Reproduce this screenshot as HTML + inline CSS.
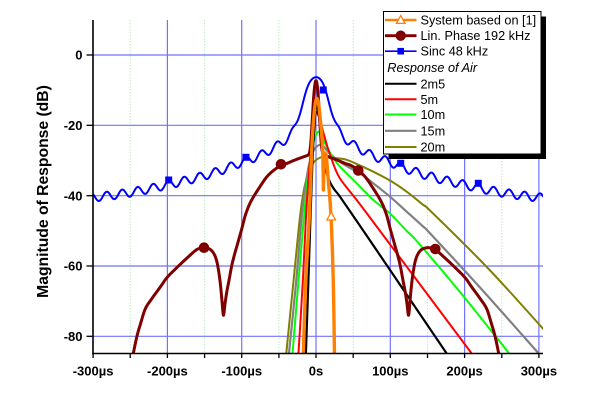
<!DOCTYPE html>
<html><head><meta charset="utf-8">
<style>
html,body{margin:0;padding:0;background:#fff;}
svg{display:block;}
text{font-family:"Liberation Sans",Arial,sans-serif;fill:#000;}
.tk{font-size:13px;font-weight:bold;}
.lg{font-size:12.7px;}
</style></head>
<body>
<svg id="s" width="600" height="401" viewBox="0 0 600 401" xmlns="http://www.w3.org/2000/svg">
<defs><clipPath id="c"><rect x="93" y="18" width="450" height="335.5"/></clipPath></defs>
<rect width="600" height="401" fill="#fff"/>
<!-- minor grid -->
<g stroke="#bdecbd" stroke-width="1" stroke-dasharray="1.5,1.5">
<line x1="130.2" y1="20" x2="130.2" y2="353.5"/>
<line x1="204.6" y1="20" x2="204.6" y2="353.5"/>
<line x1="278.9" y1="20" x2="278.9" y2="353.5"/>
<line x1="353.2" y1="20" x2="353.2" y2="353.5"/>
<line x1="427.5" y1="20" x2="427.5" y2="353.5"/>
<line x1="501.8" y1="20" x2="501.8" y2="353.5"/>
</g>
<!-- major grid -->
<g stroke="#7272ff" stroke-width="1.2">
<line x1="167.4" y1="20" x2="167.4" y2="353.5"/>
<line x1="241.7" y1="20" x2="241.7" y2="353.5"/>
<line x1="316" y1="20" x2="316" y2="353.5"/>
<line x1="390.3" y1="20" x2="390.3" y2="353.5"/>
<line x1="464.6" y1="20" x2="464.6" y2="353.5"/>
<line x1="538.9" y1="20" x2="538.9" y2="353.5"/>
<line x1="93" y1="55" x2="543" y2="55"/>
<line x1="93" y1="125.3" x2="543" y2="125.3"/>
<line x1="93" y1="195.7" x2="543" y2="195.7"/>
<line x1="93" y1="266" x2="543" y2="266"/>
<line x1="93" y1="336.3" x2="543" y2="336.3"/>
</g>
<g id="curves" clip-path="url(#c)" fill="none" stroke-linejoin="round"></g>
<g id="marks"></g>
<!-- axes -->
<g stroke="#000" stroke-width="1.6">
<line x1="93" y1="20" x2="93" y2="354.3"/>
<line x1="92.2" y1="353.5" x2="543" y2="353.5"/>
</g>
<g stroke="#000" stroke-width="1.3">
<line x1="86.5" y1="55" x2="93" y2="55"/>
<line x1="86.5" y1="125.3" x2="93" y2="125.3"/>
<line x1="86.5" y1="195.7" x2="93" y2="195.7"/>
<line x1="86.5" y1="266" x2="93" y2="266"/>
<line x1="86.5" y1="336.3" x2="93" y2="336.3"/>
<line x1="93.1" y1="353.5" x2="93.1" y2="358"/>
<line x1="130.2" y1="353.5" x2="130.2" y2="358"/>
<line x1="167.4" y1="353.5" x2="167.4" y2="358"/>
<line x1="204.6" y1="353.5" x2="204.6" y2="358"/>
<line x1="241.7" y1="353.5" x2="241.7" y2="358"/>
<line x1="278.9" y1="353.5" x2="278.9" y2="358"/>
<line x1="316" y1="353.5" x2="316" y2="358"/>
<line x1="353.2" y1="353.5" x2="353.2" y2="358"/>
<line x1="390.3" y1="353.5" x2="390.3" y2="358"/>
<line x1="427.5" y1="353.5" x2="427.5" y2="358"/>
<line x1="464.6" y1="353.5" x2="464.6" y2="358"/>
<line x1="501.8" y1="353.5" x2="501.8" y2="358"/>
<line x1="538.9" y1="353.5" x2="538.9" y2="358"/>
</g>
<g class="tk" text-anchor="end">
<text x="82.5" y="59.7">0</text>
<text x="82.5" y="130">-20</text>
<text x="82.5" y="200.4">-40</text>
<text x="82.5" y="270.7">-60</text>
<text x="82.5" y="341">-80</text>
</g>
<g class="tk" text-anchor="middle">
<text x="93.1" y="375.5">-300µs</text>
<text x="167.4" y="375.5">-200µs</text>
<text x="241.7" y="375.5">-100µs</text>
<text x="316" y="375.5">0s</text>
<text x="390.3" y="375.5">100µs</text>
<text x="464.6" y="375.5">200µs</text>
<text x="538.9" y="375.5">300µs</text>
</g>
<text transform="translate(48,191.5) rotate(-90)" text-anchor="middle" style="font-size:15.7px;font-weight:bold;">Magnitude of Response (dB)</text>
<!-- legend -->
<rect x="388.5" y="16.5" width="157.5" height="142.5" fill="#000"/>
<rect x="383.5" y="11.5" width="157.5" height="142.5" fill="#fff" stroke="#000" stroke-width="1"/>
<line x1="385" y1="20" x2="416.5" y2="20" stroke="#ff8000" stroke-width="2.5"/>
<polygon points="400.7,15.6 405,23.4 396.4,23.4" fill="#fff" stroke="#ff8000" stroke-width="1.3"/>
<line x1="385" y1="35.7" x2="416.5" y2="35.7" stroke="#800000" stroke-width="2.8"/>
<circle cx="400.7" cy="35.7" r="5.2" fill="#800000"/>
<line x1="385" y1="51.2" x2="416.5" y2="51.2" stroke="#0000ff" stroke-width="1.6"/>
<rect x="397.4" y="47.9" width="6.6" height="6.6" fill="#0000ff"/>
<line x1="385" y1="83.8" x2="416.5" y2="83.8" stroke="#000" stroke-width="2"/>
<line x1="385" y1="99.3" x2="416.5" y2="99.3" stroke="#ff0000" stroke-width="2"/>
<line x1="385" y1="114.5" x2="416.5" y2="114.5" stroke="#00ff00" stroke-width="2"/>
<line x1="385" y1="130.8" x2="416.5" y2="130.8" stroke="#808080" stroke-width="2.2"/>
<line x1="385" y1="147" x2="416.5" y2="147" stroke="#808000" stroke-width="2"/>
<g class="lg">
<text x="420.5" y="24.6">System based on [1]</text>
<text x="420.5" y="40.2">Lin. Phase 192 kHz</text>
<text x="420.5" y="55.6">Sinc 48 kHz</text>
<text x="387.3" y="71.8" font-style="italic">Response of Air</text>
<text x="420.5" y="88.4">2m5</text>
<text x="420.5" y="103.8">5m</text>
<text x="420.5" y="118.9">10m</text>
<text x="420.5" y="135.4">15m</text>
<text x="420.5" y="151.7">20m</text>
</g>
</svg>
<script>
(function(){
var NS="http://www.w3.org/2000/svg";
function X(t){return 316+0.743*t;}
function Y(d){return 55-3.5167*d;}
function herm(tab,x){
  var n=tab.length;
  if(x<=tab[0][0]) return tab[0][1];
  if(x>=tab[n-1][0]) return tab[n-1][1];
  var i=0; while(tab[i+1][0]<x) i++;
  function m(k){
    if(k<=0) return (tab[1][1]-tab[0][1])/(tab[1][0]-tab[0][0]);
    if(k>=n-1) return (tab[n-1][1]-tab[n-2][1])/(tab[n-1][0]-tab[n-2][0]);
    return (tab[k+1][1]-tab[k-1][1])/(tab[k+1][0]-tab[k-1][0]);
  }
  var x0=tab[i][0],y0=tab[i][1],x1=tab[i+1][0],y1=tab[i+1][1];
  var h=x1-x0,s=(x-x0)/h,m0=m(i)*h,m1=m(i+1)*h,s2=s*s,s3=s2*s;
  return (2*s3-3*s2+1)*y0+(s3-2*s2+s)*m0+(-2*s3+3*s2)*y1+(s3-s2)*m1;
}
function f(v){return v.toFixed(2);}
function cr(pts,start){
  var d=(start||'M')+f(pts[0][0])+','+f(pts[0][1]);
  for(var i=0;i<pts.length-1;i++){
    var p0=pts[i-1]||pts[i],p1=pts[i],p2=pts[i+1],p3=pts[i+2]||p2;
    d+='C'+f(p1[0]+(p2[0]-p0[0])/6)+','+f(p1[1]+(p2[1]-p0[1])/6)+' '+
      f(p2[0]-(p3[0]-p1[0])/6)+','+f(p2[1]-(p3[1]-p1[1])/6)+' '+f(p2[0])+','+f(p2[1]);
  }
  return d;
}
function poly(pts){var d='M';for(var i=0;i<pts.length;i++){d+=(i?'L':'')+f(pts[i][0])+','+f(pts[i][1]);}return d;}
var g=document.getElementById('curves'), mk=document.getElementById('marks');
function path(d,col,w){var p=document.createElementNS(NS,'path');p.setAttribute('d',d);p.setAttribute('stroke',col);p.setAttribute('stroke-width',w);p.setAttribute('fill','none');p.setAttribute('stroke-linejoin','round');g.appendChild(p);}
// Sinc 48k
var Ct=[[0,-20],[20,-20.5],[30,-22.5],[40,-24],[50,-25.5],[60,-26.8],[75,-28.5],[100,-30.5],[125,-32.6],[150,-34.3],[175,-35.7],[200,-36.9],[225,-38.1],[250,-39.1],[275,-39.9],[300,-40.5],[320,-41]];
var sp=[];
for(var t=-306;t<=306;t+=0.5){
  var c=herm(Ct,Math.abs(t))+1.2*Math.cos(2*Math.PI*(t-10)/20.833);
  var a=Math.pow(10,c/20)+0.397*Math.exp(-(t/16)*(t/16));
  sp.push([X(t),Y(20*Math.log10(a))]);
}
path(poly(sp),'#0000ff',2);
// Air responses
var olive=[[286,356],[293.3,283.3],[300,216.7],[304.3,188],[309.3,171],[314.3,161.5],[321,157.3],[327,156.6],[335,158],[346.7,159.8],[360,165.5],[373.3,171.7],[390,180.5],[406.7,191.7],[423.3,205],[430,210.5],[480,260],[510,292],[542.7,328.3],[550,336]];
var gray=[[288.7,356],[296,283.3],[301.7,216.7],[305.5,185],[309.5,163],[314,150],[319.3,145],[324,147],[329.3,153],[340,162],[349.3,167.5],[363.3,175.5],[373.3,183.3],[390,196.7],[406.7,211.7],[423.3,226.7],[430,233.3],[480,287.5],[538.7,353.5],[541,356]];
var green=[[292.3,356],[298.3,283.3],[304,216.7],[307.5,180],[310.5,158],[313.5,142],[317.7,132],[320.5,134],[323.5,140],[327.5,148],[333,157.5],[340,166.7],[356.7,183.3],[373.3,200],[390,213.5],[406.7,231],[416.7,241],[460,292],[509.3,353.5],[511.5,356]];
var red=[[298.3,356],[302.7,283.3],[306,216.7],[309,172],[311.5,142],[313.7,124],[316,112.5],[318.2,115],[320.5,122],[323.5,133],[327.5,147],[333,163],[340,178.5],[356.7,200],[373.3,222],[471.7,353.5],[473.5,356]];
var black=[[305.8,356],[308.3,283.3],[310.5,216.7],[312.5,160],[314.5,125],[316.5,103],[318.5,113],[320.5,131],[322.5,150],[325,166],[329.3,180.5],[334,189],[340,196.7],[356.7,221],[370,240.5],[446.7,353.5],[448.5,356]];
path(cr(olive),'#808000',2);
path(cr(gray),'#808080',2.2);
path(cr(green),'#00ff00',2);
path(cr(red),'#ff0000',2);
path(cr(black),'#000000',2.2);
// Lin phase 192k
var Bt=[[0,-28.2],[10,-28.5],[20,-29.2],[30,-30.0],[40,-30.9],[47,-31.4],[57,-32.8],[66,-34.6],[75,-37.3],[88,-41.8],[95,-45.5],[100,-49.5],[106,-54],[110,-57],[113.5,-60],[117,-64],[120.2,-67.5],[122.5,-70.8],[124.6,-74],[126.5,-70],[128.5,-65.5],[131,-61.5],[134,-58.3],[138,-56.3],[143,-55.2],[150,-54.8],[155,-54.9],[161,-55.4],[174,-57.8],[187.5,-60.5],[201,-63.4],[209,-65.8],[222,-69.6],[230,-72.3],[236,-76.3],[241,-80],[246,-85],[252,-92],[260,-100]];
var dr=[];
for(var t2=-258;t2<=258;t2+=0.25){
  var b=herm(Bt,Math.abs(t2));
  var a2=Math.pow(10,b/20)+0.3926*Math.exp(-(t2/4)*(t2/4));
  dr.push([X(t2),Y(20*Math.log10(a2))]);
}
path(poly(dr),'#800000',3);
// System based on [1]
var o1=[[303.3,356],[305.7,283.3],[309.3,216.7],[311.7,150],[313.6,120],[315.2,104],[316.8,98.5],[318.5,103],[320.2,118],[321.8,136],[322.8,154],[323.4,190]];
var o2=[[323.4,190],[324.2,157],[325.3,153.5],[326.5,158],[328.5,183],[331,216],[333.3,283],[334.5,356]];
path(cr(o1)+cr(o2,'L'),'#ff8000',3.4);
// markers
function el(name,attrs,parent){var e=document.createElementNS(NS,name);for(var k in attrs)e.setAttribute(k,attrs[k]);(parent||mk).appendChild(e);return e;}
var sq=[[168.7,180],[246,157.3],[323.3,90],[400.7,163.3],[478.3,183.3]];
sq.forEach(function(p){el('rect',{x:p[0]-3.5,y:p[1]-3.5,width:7,height:7,fill:'#0000ff'});});
var ci=[[204,247.7],[281,164.3],[358.3,170.5],[435.3,249]];
ci.forEach(function(p){el('circle',{cx:p[0],cy:p[1],r:5.3,fill:'#800000'});});
el('polygon',{points:'331.2,212 335.5,220 326.9,220',fill:'#fff',stroke:'#ff8000','stroke-width':1.3});
})();
</script>
</body></html>
